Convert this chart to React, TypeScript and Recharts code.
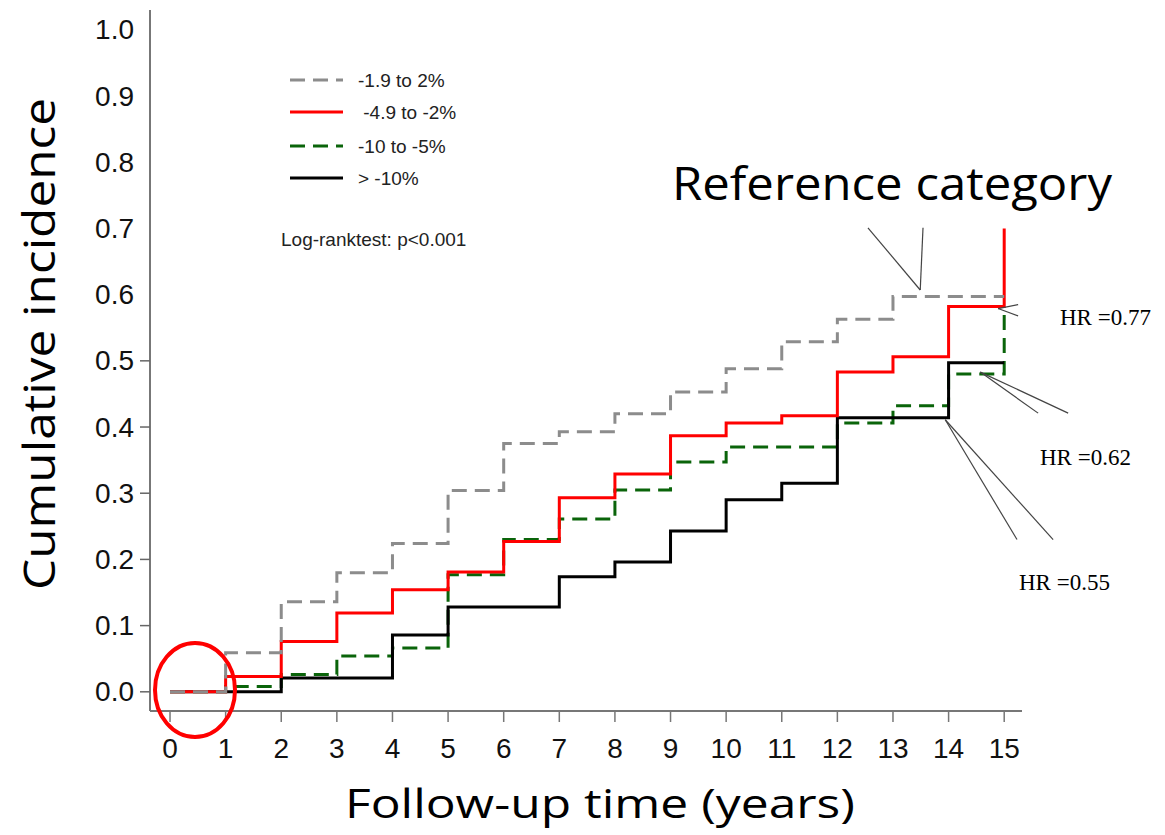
import React from "react";
import {
  LineChart,
  Line,
  XAxis,
  YAxis,
  ReferenceLine,
} from "recharts";

// follow-up year at each step
const years = [0, 1, 2, 3, 4, 5, 6, 7, 8, 9, 10, 11, 12, 13, 14, 15];

// cumulative incidence per weight-change category
const grayVals = [0, 0.059, 0.136, 0.18, 0.224, 0.304, 0.375, 0.393, 0.42, 0.453, 0.488, 0.529, 0.563, 0.597, 0.597, 0.597];
const redVals = [0, 0.023, 0.076, 0.119, 0.154, 0.181, 0.227, 0.293, 0.329, 0.387, 0.406, 0.417, 0.483, 0.506, 0.582, 0.7];
const greenVals = [0, 0.008, 0.026, 0.054, 0.066, 0.177, 0.23, 0.261, 0.305, 0.347, 0.37, 0.37, 0.406, 0.432, 0.48, 0.577];
const blackVals = [0, 0, 0.021, 0.021, 0.086, 0.128, 0.128, 0.174, 0.196, 0.243, 0.29, 0.315, 0.414, 0.414, 0.497, 0.497];

const yTicks = [0, 0.1, 0.2, 0.3, 0.4, 0.5, 0.6, 0.7, 0.8, 0.9, 1.0];
const xTicks = years;

const seriesNames = ["-1.9 to 2%", " -4.9 to -2%", "-10 to -5%", "> -10%"];

// pointer lines from the annotations to the curves, in data units
const pointers = [
  [[12.55, 0.701], [13.49, 0.607]],
  [[13.54, 0.701], [13.49, 0.607]],
  [[15.25, 0.585], [14.89, 0.579]],
  [[14.89, 0.579], [15.25, 0.568]],
  [[14.57, 0.483], [16.15, 0.421]],
  [[14.57, 0.483], [15.61, 0.421]],
  [[13.94, 0.411], [15.23, 0.23]],
  [[13.94, 0.411], [15.88, 0.23]],
];

const rows = years.map((t, i) => ({
  t,
  gray: grayVals[i],
  red: redVals[i],
  green: greenVals[i],
  black: blackVals[i],
}));

// legend order
const styles = [
  { key: "gray", color: "#8c8c8c", dash: "15 8" },
  { key: "red", color: "#ff0000", dash: undefined },
  { key: "green", color: "#0a640a", dash: "15 8" },
  { key: "black", color: "#000000", dash: undefined },
];
// drawing order (bottom to top)
const drawOrder = ["green", "black", "red", "gray"];

const tickFont = "'Liberation Sans', Arial, sans-serif";

function YTick({ x, y, payload }: any) {
  const v = payload.value as number;
  return (
    <g>
      <text x={x} y={y} textAnchor="end" dominantBaseline="central" fontFamily={tickFont} fontSize={28} fill="#111">
        {v.toFixed(1)}
      </text>
      {v <= 0.5 && <line x1={x + 6} x2={x + 16} y1={y} y2={y} stroke="#666" strokeWidth={1.5} />}
    </g>
  );
}

function XTick({ x, y, payload }: any) {
  return (
    <text x={x} y={y + 26} textAnchor="middle" fontFamily={tickFont} fontSize={28} fill="#111">
      {payload.value}
    </text>
  );
}

export default function App() {
  const titleFont = "'Open Sans', Lato, sans-serif";
  const legendRows = [80, 112, 146, 178];
  return (
    <div style={{ position: "absolute", left: 0, top: 0, width: 1165, height: 835, background: "#fff" }}>
      <LineChart
        width={1165}
        height={835}
        data={rows}
        margin={{ top: 10, right: 143, bottom: 0, left: 0 }}
      >
        <XAxis
          dataKey="t"
          type="number"
          domain={[-0.36, 15.32]}
          ticks={xTicks}
          height={124}
          tickSize={11}
          tickMargin={10}
          tick={<XTick />}
          axisLine={{ stroke: "#777", strokeWidth: 2 }}
          tickLine={{ stroke: "#777", strokeWidth: 1.5 }}
          allowDataOverflow
        />
        <YAxis
          type="number"
          domain={[-0.029, 1.03]}
          ticks={yTicks}
          width={150}
          tickSize={10}
          tickMargin={6}
          tick={<YTick />}
          tickLine={false}
          axisLine={{ stroke: "#777", strokeWidth: 2 }}
          allowDataOverflow
        />
        {drawOrder.map((k) => {
          const i = styles.findIndex((s) => s.key === k);
          const s = styles[i];
          return (
            <Line
              key={s.key}
              dataKey={s.key}
              name={seriesNames[i]}
              type="stepAfter"
              stroke={s.color}
              strokeWidth={3}
              strokeDasharray={s.dash}
              dot={false}
              activeDot={false}
              isAnimationActive={false}
            />
          );
        })}
        {pointers.map((p, i) => (
          <ReferenceLine
            key={i}
            segment={[
              { x: p[0][0], y: p[0][1] },
              { x: p[1][0], y: p[1][1] },
            ]}
            stroke="#444"
            strokeWidth={1.2}
            ifOverflow="visible"
          />
        ))}
      </LineChart>
      <svg
        width={1165}
        height={835}
        style={{ position: "absolute", left: 0, top: 0, pointerEvents: "none" }}
      >
        {styles.map((s, i) => (
          <g key={s.key}>
            <line
              x1={290}
              x2={343}
              y1={legendRows[i]}
              y2={legendRows[i]}
              stroke={s.color}
              strokeWidth={3}
              strokeDasharray={s.dash}
            />
            <text
              x={358}
              y={legendRows[i]}
              dominantBaseline="central"
              fontFamily={tickFont}
              fontSize={19}
              fill="#222"
              style={{ whiteSpace: "pre" }}
            >
              {seriesNames[i]}
            </text>
          </g>
        ))}
        <text x={281} y={246} fontFamily={tickFont} fontSize={19} fill="#222">
          Log-ranktest: p&lt;0.001
        </text>
        <text
          x={55}
          y={344}
          transform="rotate(-90 55 344)"
          textAnchor="middle"
          fontFamily={titleFont}
          fontSize={44}
          fill="#000"
          textLength={492}
          lengthAdjust="spacingAndGlyphs"
        >
          Cumulative incidence
        </text>
        <text
          x={600}
          y={818}
          textAnchor="middle"
          fontFamily={titleFont}
          fontSize={40}
          fill="#000"
          textLength={510}
          lengthAdjust="spacingAndGlyphs"
        >
          Follow-up time (years)
        </text>
        <text
          x={892}
          y={200}
          textAnchor="middle"
          fontFamily={titleFont}
          fontSize={46}
          fill="#000"
          textLength={440}
          lengthAdjust="spacingAndGlyphs"
        >
          Reference category
        </text>
        <text x={1060} y={325} fontFamily="'Liberation Serif', serif" fontSize={23} fill="#000">
          HR =0.77
        </text>
        <text x={1040} y={465} fontFamily="'Liberation Serif', serif" fontSize={23} fill="#000">
          HR =0.62
        </text>
        <text x={1019} y={590} fontFamily="'Liberation Serif', serif" fontSize={23} fill="#000">
          HR =0.55
        </text>
        <ellipse cx={195} cy={690} rx={40} ry={47} fill="none" stroke="#ff0000" strokeWidth={4} />
      </svg>
    </div>
  );
}
